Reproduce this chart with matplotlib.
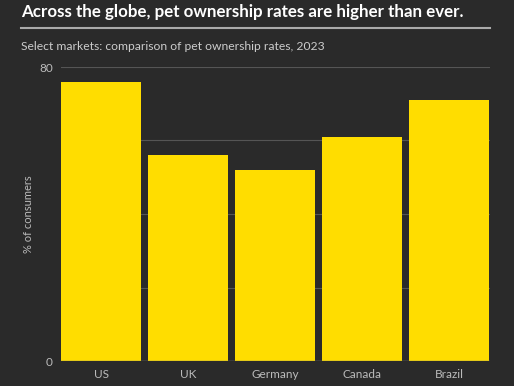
import matplotlib
matplotlib.use("Agg")
import matplotlib.pyplot as plt
from matplotlib.lines import Line2D

plt.rcParams['font.family'] = ['Lato', 'DejaVu Sans']

countries = ["US", "UK", "Germany", "Canada", "Brazil"]
rates = [76, 56, 52, 61, 71]
yticks = [0, 20, 40, 60, 80]
ytick_labels = ["0", "", "", "", "80"]

bg = "#2a2a2a"
yellow = "#ffdd00"

fig = plt.figure(figsize=(5.14, 3.86), dpi=100, facecolor=bg)
ax = fig.add_axes([61/514, 1 - 361/386, 429/514, 294/386], facecolor=bg)

x = list(range(len(countries)))
ax.bar(x, rates, width=0.92, color=yellow, zorder=3)
ax.set_xlim(-0.46, len(countries) - 1 + 0.47)
ax.set_ylim(0, 80)
ax.set_yticks(yticks)
ax.set_yticklabels(ytick_labels)
ax.set_xticks(x)
ax.set_xticklabels(countries)
ax.grid(axis='y', color="#555555", linewidth=0.8, zorder=0)
for s in ax.spines.values():
    s.set_visible(False)
ax.tick_params(length=0, colors="#bbbbbb", labelsize=8.5)
ax.tick_params(axis='y', pad=6)
ax.tick_params(axis='x', pad=6)
ax.axhline(0, color="#777777", linewidth=1, zorder=4)
ax.set_ylabel("% of consumers", color="#bbbbbb", fontsize=8)
ax.yaxis.set_label_coords(-0.062, 0.5)

fig.text(21/514, 1 - 12/386, "Across the globe, pet ownership rates are higher than ever.",
         color="white", fontsize=12.2, fontweight='bold', va='center', ha='left')
fig.add_artist(Line2D([21/514, 490/514], [1 - 28/386, 1 - 28/386],
                      color="#aaaaaa", linewidth=1.5, transform=fig.transFigure))
fig.text(21/514, 1 - 46/386, "Select markets: comparison of pet ownership rates, 2023",
         color="#cccccc", fontsize=8.7, va='center', ha='left')

fig.savefig("out.png", dpi=100, facecolor=bg)
